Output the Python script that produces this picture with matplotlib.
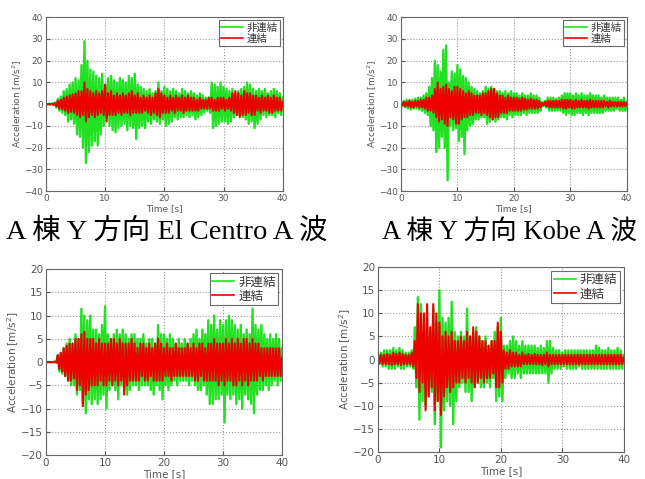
import numpy as np
import matplotlib.pyplot as plt

plt.rcParams['font.family'] = ['DejaVu Sans', 'Noto Sans CJK JP']

# sample times (0.25 s step, 0..40 s)
t = np.linspace(0, 40, 161)

# A building, El Centro A wave (top-left)
elc_a_free = [
    0.1, -0.1, 0.2, -0.2, 0.3, -0.4, 0.8, -1.5, 2.5, -3, 3.5, -4, 6, -5, 7, -8, 9, -7, 10, -9,
    12, -14, 11, -15, 18, -20, 29, -27, 20, -22, 16, -19, 15, -17, 13, -19, 12, -14, 14, -10,
    9, -6, 12, -10, 13, -12, 11, -13, 10, -11, 12, -10, 11, -9, 10, -12, 13, -10, 12, -11,
    14, -16, 9, -11, 8, -10, 7, -11, 6, -8, 7, -9, 5, -7, 6, -8, 10, -9, 6, -7,
    8, -10, 7, -9, 6, -8, 7, -6, 6, -7, 5, -6, 7, -6, 6, -5, 5, -6, 6, -5,
    5, -7, 4, -6, 5, -5, 4, -4, 3, -3, 3, -4, 10, -11, 9, -10, 8, -9, 10, -8,
    8, -8, 7, -9, 6, -8, 7, -6, 5, -5, 6, -5, 7, -6, 8, -7, 10, -9, 9, -8,
    7, -11, 6, -9, 7, -7, 6, -5, 7, -6, 5, -5, 6, -5, 7, -6, 6, -4, 5, -5,
    3]
elc_a_link = [
    0.05, -0.05, 0.1, -0.1, 0.2, -0.3, 0.5, -1, 1.5, -2, 2, -2.5, 3, -3, 3.5, -4, 4, -3.5, 4.5, -4,
    5, -5, 6, -6, 6, -5, 10, -8, 7, -6, 6, -5, 5, -6, 6, -5, 5, -4, 6, -5,
    9, -8, 5, -5, 6, -5, 4, -5, 5, -4, 4, -5, 5, -4, 4, -4, 5, -5, 6, -4,
    4, -4, 5, -4, 3, -4, 4, -3, 3, -4, 4, -5, 3, -4, 5, -5, 7, -6, 5, -4,
    4, -4, 3, -4, 4, -3, 3, -4, 4, -3, 3, -3, 4, -4, 3, -3, 4, -3, 3, -3,
    3, -3, 2, -3, 3, -2, 2, -2, 2, -2, 3, -2, 3, -3, 2, -3, 3, -3, 3, -2,
    3, -3, 2, -2, 3, -3, 5, -4, 6, -5, 5, -6, 4, -5, 6, -5, 5, -4, 5, -5,
    4, -5, 4, -3, 3, -4, 4, -3, 3, -3, 4, -4, 3, -4, 4, -3, 3, -3, 3, -3,
    1]

# A building, Kobe A wave (top-right)
kobe_a_free = [
    1, -1, 1.5, -1.5, 2, -2, 2, -2.5, 2, -2, 2.5, -2, 3, -2.5, 3, -3, 4, -4, 5, -5,
    8, -10, 12, -12, 20, -22, 18, -20, 15, -15, 25, -20, 27, -35, 10, -10, 15, -12, 14, -11,
    18, -17, 16, -15, 13, -23, 12, -12, 10, -10, 8, -9, 7, -7, 6, -7, 5, -6, 6, -6,
    8, -9, 7, -8, 8, -7, 7, -8, 6, -7, 6, -6, 5, -6, 6, -7, 5, -5, 6, -6,
    5, -5, 5, -5, 4, -5, 5, -4, 4, -5, 4, -4, 5, -4, 4, -4, 4, -4, 3, -3,
    1, -1, 1.5, -1.5, 3, -3, 3, -3, 3, -3, 2.5, -3, 3, -3, 4, -4, 5, -5, 5, -4,
    5, -5, 4, -5, 5, -4, 4, -4, 5, -5, 4, -4, 4, -5, 5, -4, 4, -4, 4, -4,
    4, -4, 3, -4, 4, -3, 3, -3, 3, -3, 3, -3, 3, -2, 3, -3, 2, -3, 3, -3,
    1]
kobe_a_link = [
    0.5, -0.5, 1, -1, 1, -1, 1.5, -1.5, 1, -1.5, 1.5, -1, 1.5, -1.5, 2, -1.5, 2, -2, 3, -3,
    3, -3, 4, -4, 7, -6, 10, -8, 7, -7, 8, -9, 9, -10, 7, -6, 6, -7, 8, -9,
    8, -9, 7, -7, 6, -6, 5, -6, 6, -5, 5, -5, 4, -4, 4, -4, 4, -5, 5, -4,
    5, -5, 6, -6, 7, -7, 7, -6, 5, -6, 4, -4, 4, -4, 3, -4, 4, -3, 3, -3,
    3, -3, 3, -3, 2.5, -3, 3, -2.5, 2.5, -2.5, 2, -2, 2.5, -2, 2, -2, 2, -2, 1.5, -1.5,
    0.5, -0.5, 1, -1, 1.5, -1.5, 1.5, -1.5, 1.5, -1.5, 1.5, -1.5, 1.5, -1.5, 2, -2, 2, -2, 2, -1.5,
    2, -2, 1.5, -2, 2, -1.5, 1.5, -1.5, 2, -1.5, 1.5, -1.5, 1.5, -2, 2, -1.5, 1.5, -1.5, 1.5, -1.5,
    1.5, -1.5, 1.5, -1.5, 1.5, -1, 1, -1.5, 1.5, -1, 1, -1, 1, -1, 1, -1, 1, -1, 1, -1,
    0.5]

# El Centro (bottom-left)
elc_b_free = [
    0, 0, 0, 0, 0, 0, 0.1, -0.1, 1.5, -2, 2, -2.5, 3, -3, 4, -4, 5, -5, 4, -5,
    6, -7, 5, -6, 11.5, -9, 10, -11, 9, -8, 10, -9, 7, -8, 7, -9, 6, -8, 8, -7,
    12, -10, 6, -6, 5, -5, 6, -6, 7, -8, 6, -5, 7, -6, 6, -7, 5, -6, 6, -5,
    6, -5, 5, -6, 5, -5, 6, -5, 4, -5, 5, -6, 5, -7, 4, -5, 8, -6, 6, -8,
    6, -5, 5, -6, 6, -5, 5, -4, 4, -5, 5, -4, 4, -4, 5, -4, 4, -5, 5, -4,
    6, -5, 7, -6, 5, -6, 7, -5, 6, -7, 9, -9, 8, -9, 10, -8, 7, -8, 9, -7,
    8, -13, 9, -7, 10, -8, 9, -7, 8, -9, 7, -8, 8, -10, 6, -7, 7, -8, 6, -9,
    11.5, -11, 8, -7, 7, -6, 8, -6, 6, -5, 5, -6, 6, -5, 5, -4, 6, -5, 5, -4,
    3]
elc_b_link = [
    0, 0, 0, 0, 0, 0, 0.1, -0.1, 1.5, -1.5, 2, -2, 3, -3, 3.5, -4, 4, -4, 4, -3.5,
    5, -6, 5, -5, 6, -9.5, 6.5, -7, 5, -6, 5, -5, 5, -5, 4, -5, 5, -4, 4, -5,
    4, -5, 4, -4, 5, -5, 5, -4, 4, -5, 5, -4, 4, -7, 4, -5, 4, -4, 5, -4,
    4, -4, 3, -4, 4, -3, 4, -4, 3, -4, 4, -3, 3, -4, 4, -4, 5, -4, 4, -4,
    3, -3, 4, -3, 3, -4, 3, -3, 4, -3, 3, -3, 3, -3, 3, -3, 4, -3, 3, -3,
    4, -4, 3, -4, 4, -3, 4, -4, 3, -4, 4, -4, 4, -4, 5, -4, 4, -5, 4, -4,
    4, -5, 5, -4, 4, -4, 5, -5, 4, -5, 5, -4, 4, -5, 5, -4, 5, -5, 4, -4,
    5, -4, 4, -4, 4, -3, 3, -4, 3, -3, 3, -3, 3, -3, 3, -3, 3, -3, 3, -3,
    1]

# Kobe (bottom-right)
kobe_b_free = [
    1.5, -1, 1.5, -1.5, 2, -1.5, 2, -2, 2, -2, 2.5, -2, 2, -1.5, 2.5, -2, 2, -2, 1.5, -1.5,
    1.5, -1.5, 2, -2, 7, -6, 13.5, -13, 12, -9, 6, -10, 7, -8, 6, -7, 11, -14, 8, -9,
    15, -19, 9, -11, 8, -9, 9, -10, 12.5, -14, 6, -9, 5, -6, 6, -5, 5, -7, 11, -7,
    5, -9, 6, -6, 7, -5, 5, -6, 4, -6, 5, -5, 3, -6, 4, -4, 6, -9, 7, -8,
    9, -9, 3, -4, 3, -3, 4, -4, 5, -4, 4, -3, 3, -4, 4, -3, 3, -3, 3, -3,
    3, -3, 3, -3, 2.5, -3, 3, -3, 2.5, -3, 4, -5, 4, -3, 2.5, -2, 2, -2, 2, -2,
    1.5, -1.5, 2, -2, 2, -2, 2, -2, 2, -2, 2, -1.5, 2, -2, 2, -2, 2, -2, 2, -2,
    2, -2, 3, -2, 2.5, -2, 2, -2, 2, -2, 2.5, -2, 2, -2, 2, -2, 2.5, -2, 2, -2,
    1]
kobe_b_link = [
    1, -0.8, 1, -1, 1, -1, 1.2, -1, 1, -1.2, 1.5, -1, 1.2, -1, 1.5, -1.2, 1.2, -1, 1, -1,
    1, -1, 1.5, -1.5, 4, -4, 12, -7, 10, -5, 10, -11, 12, -8, 7, -6, 12, -11, 10, -9,
    8, -12, 5, -8, 6, -6, 5, -7, 6, -6, 4, -5, 4, -5, 5, -4, 4, -5, 6, -4,
    5, -5, 7, -6, 6, -5, 5, -4, 4, -5, 4, -4, 3, -4, 4, -3, 4, -6, 8, -6,
    6, -5, 2, -2, 1.5, -2, 2, -1.5, 1.5, -1.5, 1.5, -1.5, 1, -1.5, 1.5, -1, 1, -1, 1.2, -1,
    1, -1, 1.2, -1, 1, -1, 1, -1.2, 1, -1, 1.5, -1.5, 1, -1, 1, -1, 1, -1, 1, -1,
    1, -1, 1, -1, 1, -1, 1, -1, 1, -1, 1, -1, 1, -1, 1, -1, 1, -1, 1, -1,
    1, -1, 1, -1, 1, -1, 1, -1, 1, -1, 1, -1, 1, -1, 1, -1, 1, -1, 1, -1,
    0.5]

labels = ['非連結', '連結']
captions = ['A 棟 Y 方向 El Centro A 波', 'A 棟 Y 方向 Kobe A 波']

green = '#22e022'
red = '#ee0000'
tick_col = '#555555'


def draw(ax, free, link, ylim, step, fs, lfs, hl):
    ax.plot(t, free, color=green, lw=1.7, label=labels[0])
    ax.plot(t, link, color=red, lw=1.5, label=labels[1])
    ax.set_xlim(0, 40)
    ax.set_ylim(-ylim, ylim)
    ax.set_xticks(np.arange(0, 41, 10))
    ax.set_yticks(np.arange(-ylim, ylim + 1, step))
    ax.grid(True, linestyle=':', color='#999999', lw=0.8)
    ax.tick_params(direction='in', labelsize=fs, colors=tick_col, length=3, pad=2)
    for s in ax.spines.values():
        s.set_color('#666666')
        s.set_linewidth(0.8)
    ax.set_xlabel('Time [s]', fontsize=fs, color=tick_col, labelpad=1)
    ax.set_ylabel('Acceleration [m/s$^2$]', fontsize=fs, color=tick_col, labelpad=0)
    leg = ax.legend(loc='upper right', fontsize=lfs, fancybox=False, borderpad=0.2,
                    handlelength=hl, handletextpad=0.35, labelspacing=0.1, borderaxespad=0.3)
    leg.get_frame().set_edgecolor('#444444')
    leg.get_frame().set_linewidth(0.8)
    for line in leg.get_lines():
        line.set_linewidth(1.2)
    for txt in leg.get_texts():
        txt.set_color('#333333')


fig = plt.figure(figsize=(6.45, 4.79), dpi=100)
ax1 = fig.add_axes([0.0713, 0.601, 0.367, 0.363])
ax2 = fig.add_axes([0.6217, 0.601, 0.350, 0.363])
ax3 = fig.add_axes([0.0713, 0.050, 0.366, 0.388])
ax4 = fig.add_axes([0.586, 0.0564, 0.381, 0.386])

draw(ax1, elc_a_free, elc_a_link, 40, 10, 6.5, 7.5, 2.1)
draw(ax2, kobe_a_free, kobe_a_link, 40, 10, 6.5, 7.5, 2.1)
draw(ax3, elc_b_free, elc_b_link, 20, 5, 7.5, 9, 1.75)
draw(ax4, kobe_b_free, kobe_b_link, 20, 5, 7.5, 9, 1.75)

cap_font = ['Liberation Serif', 'Noto Sans CJK JP']
fig.text(0.010, 0.516, captions[0], fontsize=20.5, family=cap_font, va='center', ha='left')
fig.text(0.593, 0.516, captions[1], fontsize=19.2, family=cap_font, va='center', ha='left')

fig.savefig('out.png', dpi=100)
